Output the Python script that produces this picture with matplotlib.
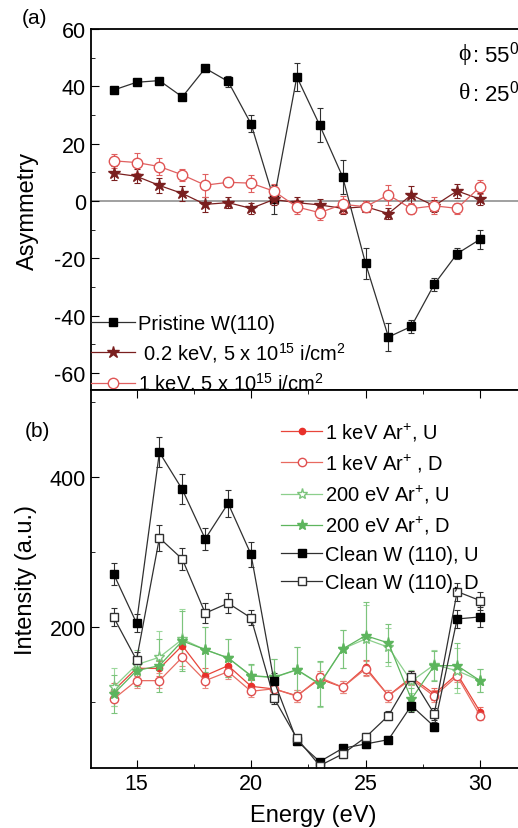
import numpy as np
import matplotlib
matplotlib.use("Agg")
import matplotlib.pyplot as plt
from matplotlib.ticker import MultipleLocator

plt.rcParams['font.family'] = ['Liberation Sans', 'DejaVu Sans']
plt.rcParams['mathtext.default'] = 'regular'
plt.rcParams['axes.unicode_minus'] = False

energy = np.arange(14, 31)

# panel (a): asymmetry
pristine = [38.7, 41.4, 42.0, 36.3, 46.3, 41.7, 26.9, 0.5, 43.3, 26.4, 8.4,
            -21.8, -47.5, -43.8, -29.1, -18.4, -13.4]
pristine_err = [1, 1, 1, 1, 1, 2, 3, 5, 4.8, 6, 6, 5.4, 5, 2.3, 2.2, 2, 3.3]
low_keV = [9.7, 8.6, 5.4, 2.6, -1.2, -0.6, -2.6, 0.5, -0.6, -1.4, -2.6,
           -2.0, -4.4, 2.1, -1.7, 3.5, 0.6]
low_keV_err = [2.5, 2.5, 2.5, 2.5, 2.5, 2, 2, 2, 2, 2, 2, 2, 2, 3, 2, 2.5, 2]
one_keV = [14.0, 13.4, 12.0, 9.1, 5.5, 6.5, 6.2, 3.4, -2.1, -4.1, -1.2,
           -2.0, 2.1, -2.7, -1.7, -2.6, 4.9]
one_keV_err = [2.5, 3.5, 3, 2, 4, 1.5, 3, 2.5, 2.5, 2.5, 3, 2, 3.5, 2, 3, 2, 2.5]
labels_a = ['Pristine W(110)', ' 0.2 keV, 5 x 10$^{15}$ i/cm$^2$',
            '1 keV, 5 x 10$^{15}$ i/cm$^2$']

# panel (b): intensity
w_u = [271, 205.7, 433, 383.5, 317.7, 365, 297, 128.8, 48.8, 20.9, 38.7,
       44.4, 50.2, 95.6, 67.6, 211, 213.7]
w_u_err = [15, 12, 20, 20, 15, 18, 17, 10, 6, 4, 5, 5, 5, 8, 6, 12, 13]
w_d = [213.3, 156.4, 319, 290.7, 218.7, 232, 212.4, 105.7, 52, 15.5, 31.1,
       53.3, 82.2, 134.1, 84.4, 247.5, 235.5]
w_d_err = [12, 10, 17, 15, 13, 13, 10, 8, 5, 4, 5, 6, 6, 8, 8, 12, 12]
g_u = [120, 150, 160, 184, 170, 159, 135, 133, 143, 124, 171, 184.4, 173.3,
       128, 150, 142, 128.8]
g_u_err = [25, 20, 35, 40, 30, 25, 15, 25, 30, 30, 25, 45, 25, 15, 20, 30, 15]
g_d = [111, 142.1, 148.8, 181.7, 170.1, 159.1, 135.5, 133.3, 143.5, 124.4,
       171, 188.8, 179, 104, 148.8, 148.8, 128.8]
g_d_err = [25, 20, 35, 40, 30, 25, 15, 25, 30, 30, 25, 45, 25, 15, 20, 30, 15]
r_u = [115.5, 145.3, 145, 175.5, 135.5, 148.8, 121.3, 117.7, 108.8, 131, 120,
       146.7, 108.8, 133.3, 111, 137.7, 87.5]
r_u_err = [10, 10, 10, 12, 10, 10, 8, 8, 8, 8, 8, 10, 8, 8, 8, 8, 6]
r_d = [104.4, 128.8, 128.8, 160, 128.8, 140.8, 114.6, 118, 108, 133, 120,
       144.4, 108.8, 131, 108, 134.7, 82.2]
r_d_err = [10, 10, 10, 12, 10, 10, 8, 8, 8, 8, 8, 10, 8, 8, 8, 8, 6]
labels_b = ['1 keV Ar$^{{+}}$, U', '1 keV Ar$^{{+}}$ , D', '200 eV Ar$^{{+}}$, U',
            '200 eV Ar$^{{+}}$, D', 'Clean W (110), U', 'Clean W (110), D']

fig = plt.figure(figsize=(5.18, 8.29), dpi=100)
ax1 = fig.add_axes([0.1751, 0.5283, 0.86, 0.4355])
ax2 = fig.add_axes([0.1751, 0.0720, 0.86, 0.4563])

ek = dict(elinewidth=0.8, capsize=2.5, capthick=0.8)

ax1.axhline(0, color='#909090', lw=1.2, zorder=0)
c1 = ax1.errorbar(energy, pristine, yerr=pristine_err, color='#303030', ecolor='#303030',
                  lw=0.9, marker='s', ms=6, mfc='black', mec='black', **ek)
c2 = ax1.errorbar(energy, low_keV, yerr=low_keV_err, color='#7a1f1f', ecolor='#7a1f1f',
                  lw=0.9, marker='*', ms=9, mfc='#7a1f1f', mec='#7a1f1f', **ek)
c3 = ax1.errorbar(energy, one_keV, yerr=one_keV_err, color='#e06060', ecolor='#e06060',
                  lw=0.9, marker='o', ms=7.5, mfc='white', mec='#e05555', **ek)

ax1.set_xlim(13, 32.45)
ax1.set_ylim(-66, 60)
ax1.yaxis.set_major_locator(MultipleLocator(20))
ax1.yaxis.set_minor_locator(MultipleLocator(10))
ax1.tick_params(axis='y', which='both', direction='in', labelsize=15.5, right=False)
ax1.tick_params(axis='y', which='major', length=6)
ax1.tick_params(axis='y', which='minor', length=3)
ax1.tick_params(axis='x', which='both', bottom=False, labelbottom=False)
ax1.set_ylabel('Asymmetry', fontsize=17, labelpad=11)
ax1.legend([c1[0], c2[0], c3[0]], labels_a, loc='lower left', frameon=False,
           fontsize=14.5, handlelength=2.2, handletextpad=0.15, borderaxespad=0.0,
           borderpad=0.0, labelspacing=0.33, bbox_to_anchor=(0.0, -0.012))
serif = ['Liberation Serif', 'DejaVu Serif']
ax1.text(0.826, 0.931, 'ϕ', transform=ax1.transAxes, fontsize=17, va='center', family=serif)
ax1.text(0.856, 0.931, ': 55$^0$', transform=ax1.transAxes, fontsize=16, va='center')
ax1.text(0.826, 0.825, 'θ', transform=ax1.transAxes, fontsize=17, va='center', family=serif)
ax1.text(0.856, 0.825, ': 25$^0$', transform=ax1.transAxes, fontsize=16, va='center')
fig.text(0.042, 0.978, '(a)', fontsize=15, va='center')

conts = []
conts.append(ax2.errorbar(energy, r_u, yerr=r_u_err, color='#e8453a', ecolor='#e86a60',
                          lw=0.9, marker='o', ms=4.5, mfc='#e8302a', mec='#e8302a', **ek))
conts.append(ax2.errorbar(energy, r_d, yerr=r_d_err, color='#e86a60', ecolor='#e88a80',
                          lw=0.9, marker='o', ms=6, mfc='white', mec='#e05050', **ek))
conts.append(ax2.errorbar(energy, g_u, yerr=g_u_err, color='#8ccf8c', ecolor='#9cd89c',
                          lw=0.9, marker='*', ms=8, mfc='white', mec='#7cc47c', **ek))
conts.append(ax2.errorbar(energy, g_d, yerr=g_d_err, color='#5db55d', ecolor='#7cc47c',
                          lw=0.9, marker='*', ms=8, mfc='#5db55d', mec='#5db55d', **ek))
conts.append(ax2.errorbar(energy, w_u, yerr=w_u_err, color='#303030', ecolor='#303030',
                          lw=0.9, marker='s', ms=6, mfc='black', mec='black', **ek))
conts.append(ax2.errorbar(energy, w_d, yerr=w_d_err, color='#303030', ecolor='#303030',
                          lw=0.9, marker='s', ms=6, mfc='white', mec='#303030', **ek))

ax2.set_xlim(13, 32.45)
ax2.set_ylim(12, 516)
ax2.xaxis.set_major_locator(MultipleLocator(5))
ax2.xaxis.set_minor_locator(MultipleLocator(2.5))
ax2.yaxis.set_major_locator(MultipleLocator(200))
ax2.yaxis.set_minor_locator(MultipleLocator(100))
ax2.tick_params(which='both', direction='in', top=True, right=False, labelsize=15.5)
ax2.tick_params(which='major', length=6)
ax2.tick_params(which='minor', length=3)
ax2.set_ylabel('Intensity (a.u.)', fontsize=17, labelpad=9)
ax2.set_xlabel('Energy (eV)', fontsize=17, labelpad=7)
ax2.legend([c[0] for c in conts], labels_b, loc='upper left', frameon=False,
           fontsize=14.5, handlelength=2.0, handletextpad=0.15, borderaxespad=0.0,
           borderpad=0.0, labelspacing=0.45, bbox_to_anchor=(0.428, 0.919))
fig.text(0.048, 0.479, '(b)', fontsize=15, va='center')

for ax in (ax1, ax2):
    ax.spines['right'].set_visible(False)
    for s in ax.spines.values():
        s.set_linewidth(1.3)

fig.savefig('out.png', dpi=100)
